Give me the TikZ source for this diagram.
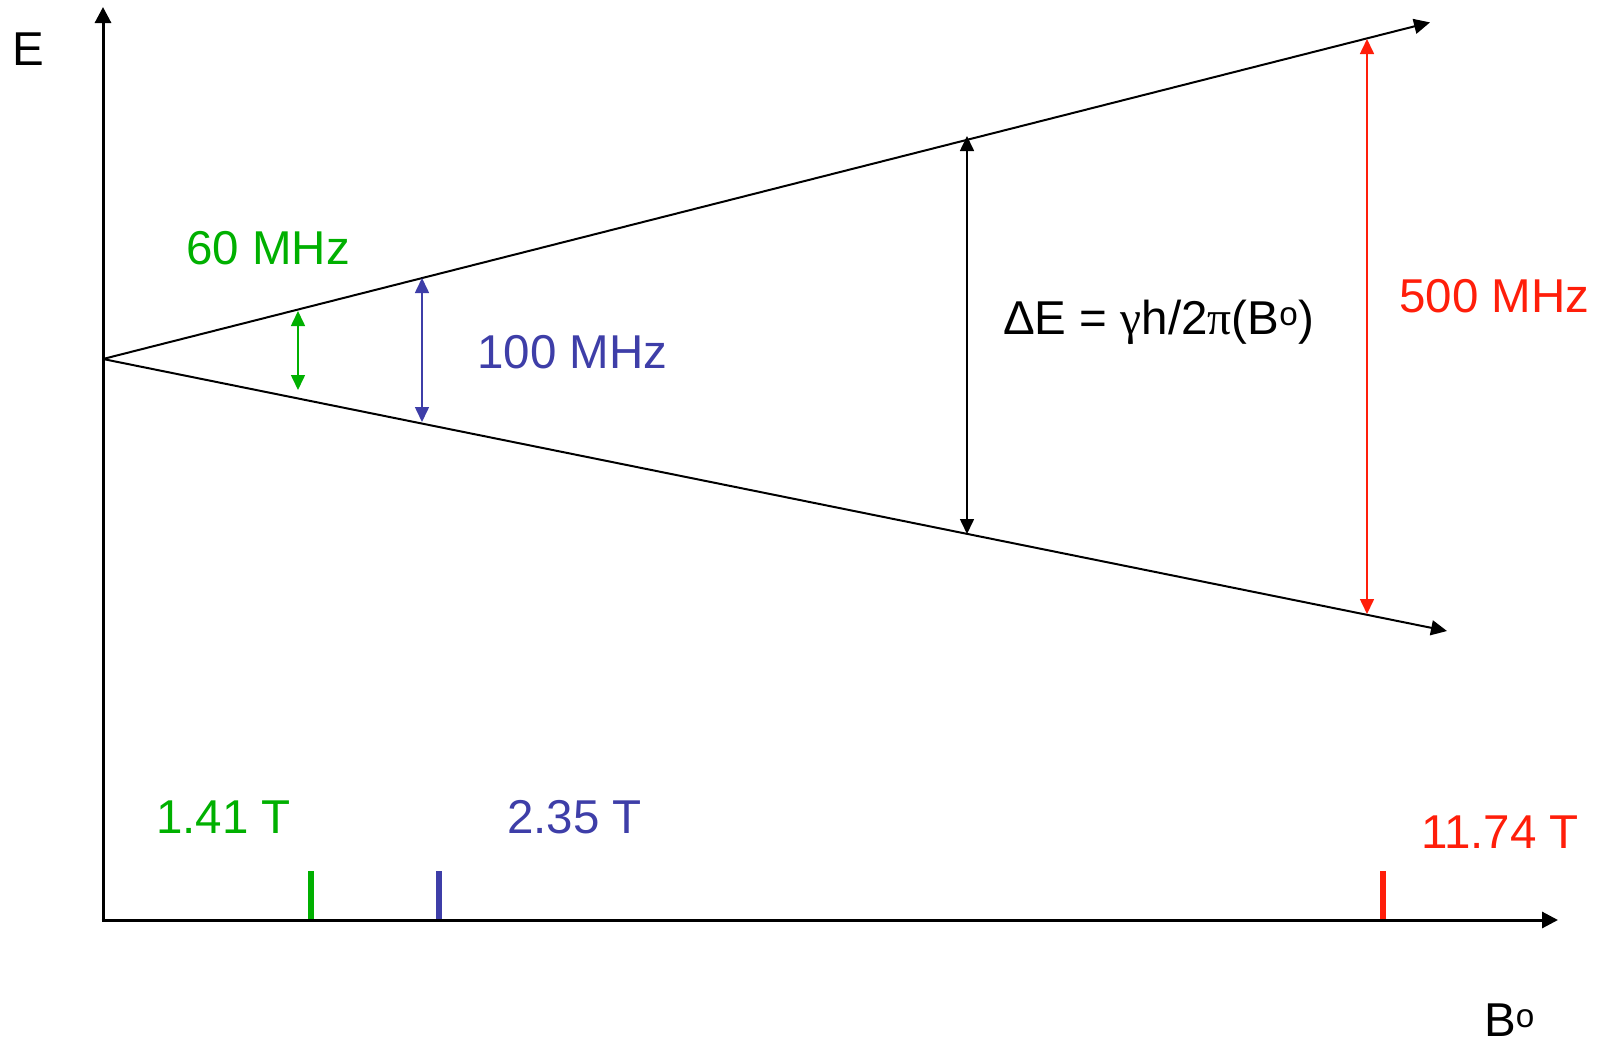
\documentclass[tikz,border=0pt]{standalone}
\usepackage{fontspec}
\setmainfont{Liberation Sans}
\newfontfamily\symfont{Liberation Serif}
\usetikzlibrary{arrows.meta}
\definecolor{mygreen}{RGB}{0,176,0}
\definecolor{myblue}{RGB}{62,62,168}
\definecolor{myred}{RGB}{255,30,10}
\begin{document}
\begin{tikzpicture}[x=1pt,y=-1pt,
  lbl/.style={font=\fontsize{47.5}{52}\selectfont, inner sep=0pt, anchor=west},
  axis/.style={line width=3pt, -{Triangle[length=16pt,width=16pt]}},
  level/.style={line width=2pt, -{Triangle[length=16pt,width=15pt]}},
  gap/.style={line width=1.6pt, {Triangle[length=15pt,width=14pt]}-{Triangle[length=15pt,width=14pt]}},
  tick/.style={line width=5.5pt}]
\useasboundingbox (0,0) rectangle (1599,1044);
% axes
\coordinate (O) at (103,920);
\coordinate (Ytop) at (103,7);
\coordinate (Xend) at (1558,920);
\draw[axis] ([yshift=1.5pt]O) -- (Ytop);
\draw[axis] ([xshift=-1.5pt]O) -- (Xend);
% energy levels
\coordinate (A) at (103,359);
\coordinate (U) at (1430,22.4);
\coordinate (L) at (1447,631);
\draw[level] (A) -- (U);
\draw[level] (A) -- (L);
% gap arrows
\coordinate (g1) at (298,311); \coordinate (g2) at (298,390);
\coordinate (b1) at (422,278); \coordinate (b2) at (422,422);
\coordinate (k1) at (967,136); \coordinate (k2) at (967,534);
\coordinate (r1) at (1367,39); \coordinate (r2) at (1367,614);
\draw[gap, mygreen] (g1) -- (g2);
\draw[gap, myblue] (b1) -- (b2);
\draw[gap, black] (k1) -- (k2);
\draw[gap, myred] (r1) -- (r2);
% ticks
\coordinate (t1a) at (311,871); \coordinate (t1b) at (311,919);
\coordinate (t2a) at (439,871); \coordinate (t2b) at (439,919);
\coordinate (t3a) at (1383,871); \coordinate (t3b) at (1383,919);
\draw[tick, mygreen] (t1a) -- (t1b);
\draw[tick, myblue] (t2a) -- (t2b);
\draw[tick, myred] (t3a) -- (t3b);
% labels
\node[lbl] (E) at (12,49) {E};
\node[lbl, mygreen] (f60) at (186,248) {60 MHz};
\node[lbl, myblue] (f100) at (477,352) {100 MHz};
\node[lbl] (dE) at (1003,322) {ΔE = {\symfont γ}h/2{\symfont π}(B\textsuperscript{o})};
\node[lbl, myred] (f500) at (1399,296) {500 MHz};
\node[lbl, mygreen] (T1) at (156,817) {1.41 T};
\node[lbl, myblue] (T2) at (507,817) {2.35 T};
\node[lbl, myred] (T3) at (1421,832) {11.74 T};
\node[lbl] (B) at (1484,1020) {B\textsuperscript{o}};
\end{tikzpicture}
\end{document}
